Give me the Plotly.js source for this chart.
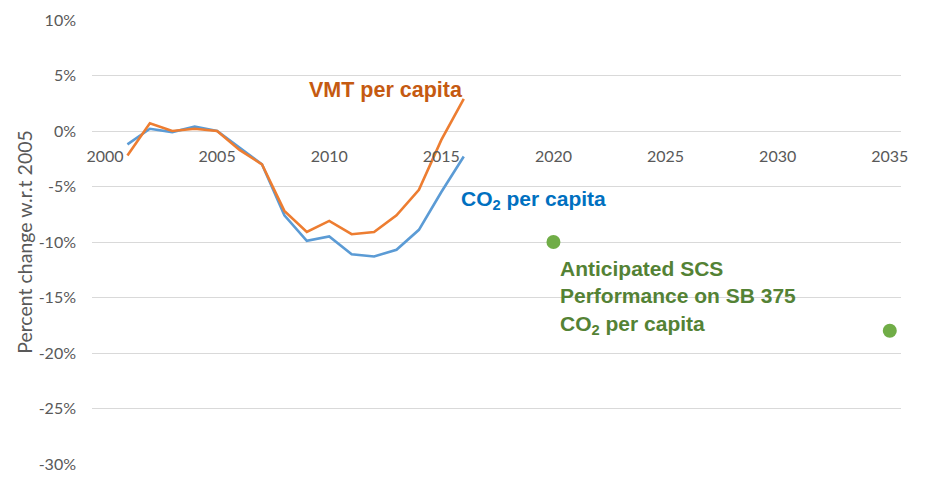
<!DOCTYPE html>
<html>
<head>
<meta charset="utf-8">
<script src="https://cdn.plot.ly/plotly-3.0.1.min.js"></script>
<style>html,body{margin:0;padding:0;background:#fff;}#chart{width:928px;height:480px;}</style>
</head>
<body>
<div id="chart"></div>
<script>
const years = [2001,2002,2003,2004,2005,2006,2007,2008,2009,2010,2011,2012,2013,2014,2015,2016];
const co2PerCapita = [-1.2,0.2,-0.1,0.4,0.0,-1.5,-3.0,-7.6,-9.9,-9.5,-11.1,-11.3,-10.7,-8.9,-5.5,-2.3];
const vmtPerCapita = [-2.2,0.7,0.0,0.2,0.0,-1.7,-3.0,-7.2,-9.1,-8.1,-9.3,-9.1,-7.6,-5.3,-0.8,2.9];
const targetYears = [2020,2035];
const targetValues = [-10,-18];
const xTicks = [2000,2005,2010,2015,2020,2025,2030,2035];
const yTicks = [-30,-25,-20,-15,-10,-5,0,5,10];
const yTickLabels = ['-30%','-25%','-20%','-15%','-10%','-5%','0%','5%','10%'];

const traces = [
  {x: years, y: co2PerCapita, type:'scatter', mode:'lines', line:{color:'#5B9BD5', width:2.6}, hoverinfo:'skip'},
  {x: years, y: vmtPerCapita, type:'scatter', mode:'lines', line:{color:'#ED7D31', width:2.6}, hoverinfo:'skip'},
  {x: targetYears, y: targetValues, type:'scatter', mode:'markers', marker:{color:'#70AD47', size:14}, hoverinfo:'skip'}
];

const tickFont = {family:'Lato, "Open Sans", sans-serif', size:16, color:'#595959'};
const bold = 'Liberation Sans, Arial, sans-serif';

const layout = {
  width:928, height:480,
  margin:{l:92, r:27, t:20, b:16},
  paper_bgcolor:'#fff', plot_bgcolor:'#fff',
  showlegend:false,
  xaxis:{
    range:[1999.42, 2035.5], tickvals:xTicks, ticktext:xTicks.map(String),
    showgrid:false, zeroline:false, showline:false, ticks:'',
    anchor:'free', position:0.75, ticklabelstandoff:14,
    tickfont:tickFont
  },
  yaxis:{
    range:[-30,10], tickvals:yTicks, ticktext:yTickLabels,
    showgrid:true, gridcolor:'#D9D9D9', gridwidth:1, zeroline:false, showline:false, ticks:'',
    ticklabelstandoff:15, tickfont:tickFont,
    title:{text:'Percent change w.r.t 2005', font:{family:'Lato, "Open Sans", sans-serif', size:19.5, color:'#595959'}, standoff:0}
  },
  annotations:[
    {x:2012.55, y:3.7, text:'VMT per capita', showarrow:false, font:{family:bold, size:21.5, color:'#C55A11', weight:'bold'}},
    {x:2019.1, y:-6.2, text:'CO<sub>2</sub> per capita', showarrow:false, font:{family:bold, size:21, color:'#0070C0', weight:'bold'}},
    {x:2020.2, y:-15.0, xanchor:'left', yanchor:'middle', align:'left',
     text:'Anticipated SCS<br>Performance on SB 375<br>CO<sub>2</sub> per capita', showarrow:false,
     font:{family:bold, size:21, color:'#548235', weight:'bold'}}
  ]
};
Plotly.newPlot('chart', traces, layout, {displayModeBar:false, staticPlot:true});
</script>
</body>
</html>
